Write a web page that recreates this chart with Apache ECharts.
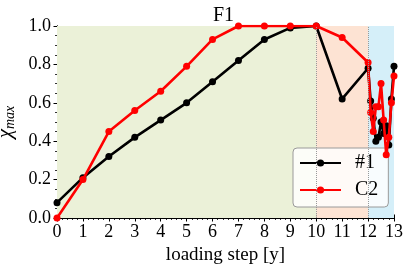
<!DOCTYPE html>
<html><head><meta charset="utf-8">
<script src="https://cdn.jsdelivr.net/npm/echarts@6/dist/echarts.min.js"></script>
<style>html,body{margin:0;padding:0;background:#fff}#c{width:409px;height:269px}</style>
</head><body><div id="c"></div>
<script>
const titleText = 'F1';
const stepsA = [0,1,2,3,4,5,6,7,8,9,10,11,12,12.1,12.2,12.3,12.4,12.5,12.6,12.7,12.8,12.9,13];
const valsA  = [0.08,0.21,0.32,0.42,0.51,0.60,0.71,0.82,0.93,0.99,1.0,0.62,0.78,0.61,0.52,0.40,0.42,0.50,0.44,0.48,0.38,0.62,0.79];
const stepsB = [0,1,2,3,4,5,6,7,8,9,10,11,12,12.1,12.2,12.3,12.4,12.5,12.6,12.7,12.8,12.9,13];
const valsB  = [0.0,0.20,0.45,0.56,0.66,0.79,0.93,1.0,1.0,1.0,1.0,0.94,0.81,0.55,0.45,0.58,0.58,0.70,0.51,0.33,0.42,0.60,0.74];
const nameA = '#1', nameB = 'C2';
const regions = [[0,10,'#ebf1d8'],[10,12,'#fde3d3'],[12,13,'#d5eff9']];
const boundaries = [10,12];

const font = 'Liberation Serif';
const chart = echarts.init(document.getElementById('c'));
const tickCommon = {show:true, inside:false, length:3.5, lineStyle:{color:'#000', width:1}};
const minorCommon = {show:true, length:2, lineStyle:{color:'#000', width:0.8}};
chart.setOption({
  animation:false,
  title:{text:titleText, left:208, top:1, textStyle:{fontFamily:font, fontSize:20, fontWeight:'normal', color:'#000'}},
  grid:{left:57, right:15, top:26, bottom:51, outerBoundsMode:'none', containLabel:false},
  legend:{
    data:[nameA,nameB], orient:'vertical', left:293, top:148,
    backgroundColor:'rgba(255,255,255,0.82)', borderColor:'#9a9a9a', borderWidth:1, borderRadius:4,
    padding:[5,10,7,6], itemGap:7, itemWidth:41, itemHeight:9,
    textStyle:{fontFamily:font, fontSize:20, lineHeight:20, color:'#000', padding:[0,0,0,9]}
  },
  xAxis:[{
    type:'value', min:0, max:13, interval:1, position:'bottom',
    name:'loading step [y]', nameLocation:'middle', nameGap:24,
    nameTextStyle:{fontFamily:font, fontSize:19, color:'#000'},
    axisLine:{show:true, lineStyle:{color:'#000', width:1}},
    axisTick:tickCommon, minorTick:{...minorCommon, splitNumber:5},
    axisLabel:{fontFamily:font, fontSize:18, color:'#000', margin:5},
    splitLine:{show:false}
  },{
    type:'value', min:0, max:13, interval:1, position:'top',
    axisLine:{show:true, lineStyle:{color:'#000'}},
    axisTick:tickCommon, minorTick:{...minorCommon, splitNumber:5},
    axisLabel:{show:false}, splitLine:{show:false}
  }],
  yAxis:[{
    type:'value', min:0, max:1, interval:0.2, position:'left',
    name:'{c|χ}{s|max}', nameLocation:'middle', nameGap:33, nameRotate:90,
    nameTextStyle:{rich:{c:{fontFamily:font, fontStyle:'italic', fontSize:21, color:'#000'}, s:{fontFamily:font, fontStyle:'italic', fontSize:14, color:'#000', padding:[10,0,0,0]}}},
    axisLine:{show:true, lineStyle:{color:'#000'}},
    axisTick:tickCommon, minorTick:{...minorCommon, splitNumber:4},
    axisLabel:{fontFamily:font, fontSize:18, color:'#000', margin:6, formatter:v=>v.toFixed(1)},
    splitLine:{show:true, lineStyle:{color:'#b4b4b4', width:1}},
    minorSplitLine:{show:true, lineStyle:{color:'#b4b4b4', width:1}}
  },{
    type:'value', min:0, max:1, interval:0.2, position:'right',
    axisLine:{show:true, lineStyle:{color:'#000'}},
    axisTick:tickCommon, minorTick:{...minorCommon, splitNumber:4},
    axisLabel:{show:false}, splitLine:{show:false}
  }],
  series:[
    {type:'line', name:'bg', data:[], silent:true,
     markArea:{silent:true, data: regions.map(r=>[{xAxis:r[0], itemStyle:{color:r[2]}},{xAxis:r[1]}])},
     markLine:{silent:true, symbol:'none', label:{show:false}, lineStyle:{color:'#999', type:'dotted', width:1},
       data: boundaries.map(b=>({xAxis:b}))}
    },
    {type:'line', name:nameA, data:stepsA.map((s,i)=>[s,valsA[i]]), symbol:'circle', symbolSize:7,
     lineStyle:{color:'#000', width:2.6}, itemStyle:{color:'#000'}, z:3},
    {type:'line', name:nameB, data:stepsB.map((s,i)=>[s,valsB[i]]), symbol:'circle', symbolSize:7,
     lineStyle:{color:'#ff0000', width:2.6}, itemStyle:{color:'#ff0000'}, z:4}
  ]
});
</script></body></html>
